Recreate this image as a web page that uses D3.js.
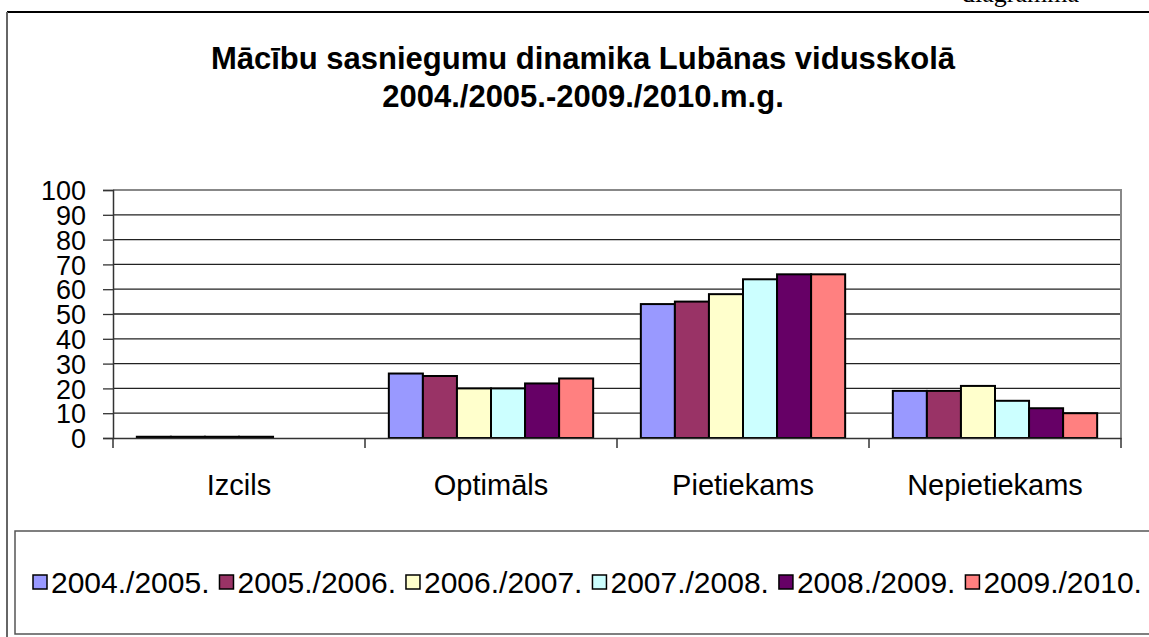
<!DOCTYPE html>
<html>
<head>
<meta charset="utf-8">
<script src="https://cdn.jsdelivr.net/npm/d3@7"></script>
<style>
  body { margin: 0; background: #fff; }
  svg { display: block; }
  text { font-family: Arial, "Liberation Sans", sans-serif; fill: #000; }
</style>
</head>
<body>
<svg></svg>
<script>
// Data

const categories = ['Izcils', 'Optimāls', 'Pietiekams', 'Nepietiekams']
const seasons = ['2004./2005.', '2005./2006.', '2006./2007.', '2007./2008.', '2008./2009.', '2009./2010.']
const colors = ['#9999ff', '#993366', '#ffffcc', '#ccffff', '#660066', '#ff8080']

// one array per season, values in category order
const v2004 = [0.5, 26, 54, 19]
const v2005 = [0.5, 25, 55, 19]
const v2006 = [0.5, 20, 58, 21]
const v2007 = [0.5, 20, 64, 15]
const v2008 = [0, 22, 66, 12]
const v2009 = [0, 24, 66, 10]
const seriesValues = [v2004, v2005, v2006, v2007, v2008, v2009]

const yTicks = [0, 10, 20, 30, 40, 50, 60, 70, 80, 90, 100]

const titleLines = ['Mācību sasniegumu dinamika Lubānas vidusskolā', '2004./2005.-2009./2010.m.g.']

// Layout

const width = 1149
const height = 637
const plot = {left: 113, right: 1121, top: 190, bottom: 438}

const svg = d3.select('svg')
    .attr('width', width)
    .attr('height', height)

// page bits around the chart (caption of the page, cut at the top)
svg.append('text')
    .attr('x', 962)
    .attr('y', 2)
    .style('font-family', '"Liberation Serif", "Times New Roman", serif')
    .style('font-size', '26px')
    .text('diagramma')

svg.append('line')
    .attr('x1', 7).attr('x2', width)
    .attr('y1', 12).attr('y2', 12)
    .attr('stroke', '#000')
    .attr('stroke-width', 2)

svg.append('line')
    .attr('x1', 7).attr('x2', 7)
    .attr('y1', 12).attr('y2', height)
    .attr('stroke', '#666')
    .attr('stroke-width', 2)

// Title

svg.append('g')
    .attr('class', 'title')
  .selectAll('text')
  .data(titleLines)
  .join('text')
    .attr('x', 583)
    .attr('y', (d, i) => 69 + i * 38)
    .attr('text-anchor', 'middle')
    .style('font-size', '31px')
    .style('font-weight', 'bold')
    .text(d => d)

// Scales

const x0 = d3.scaleBand()
    .domain(categories)
    .range([plot.left, plot.right])

const x1 = d3.scaleBand()
    .domain(seasons)
    .range([0, x0.bandwidth()])
    .paddingOuter(0.7)

const y = d3.scaleLinear()
    .domain([0, 100])
    .range([plot.bottom, plot.top])

// Grid

svg.append('g')
    .attr('class', 'grid')
  .selectAll('line')
  .data(yTicks.filter(t => t > 0 && t < 100))
  .join('line')
    .attr('x1', plot.left)
    .attr('x2', plot.right)
    .attr('y1', d => y(d))
    .attr('y2', d => y(d))
    .attr('stroke', '#222')
    .attr('stroke-width', 1.3)

// plot area border (top + right)
svg.append('path')
    .attr('d', `M${plot.left},${y(100)}H${plot.right}V${plot.bottom}`)
    .attr('fill', 'none')
    .attr('stroke', '#888')
    .attr('stroke-width', 2)

// Bars

const rows = seasons.map((s, i) => ({season: s, color: colors[i], values: seriesValues[i]}))

const bars = svg.append('g')
    .attr('class', 'bars')

rows.forEach(r => {
  bars.append('g')
    .selectAll('rect')
    .data(r.values.map((v, j) => ({cat: categories[j], v})))
    .join('rect')
      .attr('x', d => x0(d.cat) + x1(r.season))
      .attr('y', d => y(d.v))
      .attr('width', x1.bandwidth())
      .attr('height', d => y(0) - y(d.v))
      .attr('fill', r.color)
      .attr('stroke', '#000')
      .attr('stroke-width', d => d.v > 0 ? 2 : 0)
})

// Axes

const yAxis = d3.axisLeft(y)
    .tickValues(yTicks)
    .tickSize(10)
    .tickPadding(17)

svg.append('g')
    .attr('transform', `translate(${plot.left},0)`)
    .call(yAxis)
    .call(g => g.select('.domain').attr('stroke', '#333').attr('stroke-width', 1.5))
    .call(g => g.selectAll('.tick line').attr('stroke', '#333').attr('stroke-width', 1.3))
    .call(g => g.selectAll('.tick text')
        .style('font-size', '27px')
        .style('font-family', 'Arial, "Liberation Sans", sans-serif')
        .attr('dy', '0.36em'))

const xAxis = d3.axisBottom(x0)
    .tickSize(0)
    .tickPadding(36)

svg.append('g')
    .attr('transform', `translate(0,${plot.bottom})`)
    .call(xAxis)
    .call(g => g.select('.domain').attr('stroke', '#333').attr('stroke-width', 1.5))
    .call(g => g.selectAll('.tick text')
        .style('font-size', '29px')
        .style('font-family', 'Arial, "Liberation Sans", sans-serif'))

// category separators on the x axis
svg.append('g')
  .selectAll('line')
  .data(categories.map(c => x0(c)).concat([plot.right]))
  .join('line')
    .attr('x1', d => d)
    .attr('x2', d => d)
    .attr('y1', plot.bottom)
    .attr('y2', plot.bottom + 10)
    .attr('stroke', '#333')
    .attr('stroke-width', 1.5)

// Legend

const legend = svg.append('g')
    .attr('class', 'legend')

legend.append('rect')
    .attr('x', 15)
    .attr('y', 531)
    .attr('width', width)
    .attr('height', 103)
    .attr('fill', 'none')
    .attr('stroke', '#555')
    .attr('stroke-width', 1.5)

let lx = 33
rows.forEach(r => {
  const item = legend.append('g')
      .attr('transform', `translate(${lx},582)`)
  item.append('rect')
      .attr('x', 0)
      .attr('y', -7)
      .attr('width', 14)
      .attr('height', 14)
      .attr('fill', r.color)
      .attr('stroke', '#000')
      .attr('stroke-width', 1.5)
  const t = item.append('text')
      .attr('x', 18)
      .attr('dy', '0.36em')
      .style('font-size', '30px')
      .text(r.season)
  lx += 18 + t.node().getComputedTextLength() + 10
})
</script>
</body>
</html>
